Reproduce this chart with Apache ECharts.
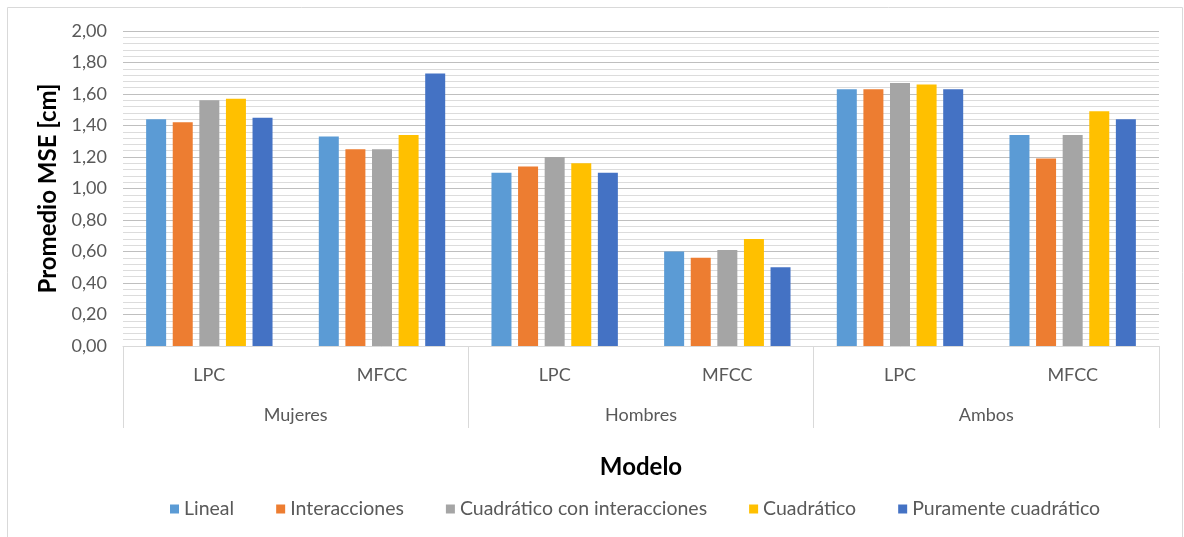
<!DOCTYPE html>
<html>
<head>
<meta charset="utf-8">
<script src="https://cdn.jsdelivr.net/npm/echarts@6/dist/echarts.min.js"></script>
<style>
  html, body { margin: 0; padding: 0; background: #ffffff; }
  #chart { width: 1184px; height: 537px; }
</style>
</head>
<body>
<div id="chart"></div>
<script>
// Grupos de hablantes y tipo de característica por modelo
const groups = ['Mujeres', 'Hombres', 'Ambos'];
const features = ['LPC', 'MFCC', 'LPC', 'MFCC', 'LPC', 'MFCC'];

// Promedio del MSE [cm] por modelo de regresión
const lineal        = [1.44, 1.33, 1.10, 0.60, 1.63, 1.34];
const interacciones = [1.42, 1.25, 1.14, 0.56, 1.63, 1.19];
const cuadInter     = [1.56, 1.25, 1.20, 0.61, 1.67, 1.34];
const cuadratico    = [1.57, 1.34, 1.16, 0.68, 1.66, 1.49];
const puramente     = [1.45, 1.73, 1.10, 0.50, 1.63, 1.44];

const seriesNames = ['Lineal', 'Interacciones', 'Cuadrático con interacciones', 'Cuadrático', 'Puramente cuadrático'];
const seriesData = [lineal, interacciones, cuadInter, cuadratico, puramente];
const colors = ['#5B9BD5', '#ED7D31', '#A5A5A5', '#FFC000', '#4472C4'];

const FONT = 'Lato, "Open Sans", sans-serif';
const chart = echarts.init(document.getElementById('chart'), null, { renderer: 'canvas' });

chart.setOption({
  animation: false,
  color: colors,
  textStyle: { fontFamily: FONT },
  graphic: [{
    type: 'rect',
    shape: { x: 7.5, y: 7.5, width: 1175, height: 535 },
    style: { fill: 'none', stroke: '#d9d9d9', lineWidth: 1 },
    silent: true
  }],
  grid: { left: 123, right: 25, top: 31, bottom: 191 },
  legend: {
    bottom: 13,
    left: 165,
    itemWidth: 9,
    itemHeight: 9,
    itemGap: 42,
    icon: 'rect',
    textStyle: { color: '#595959', fontSize: 19.5, fontFamily: FONT },
    data: seriesNames
  },
  xAxis: [{
    type: 'category',
    data: features,
    position: 'bottom',
    axisLine: { show: true, lineStyle: { color: '#d9d9d9', width: 1 } },
    axisTick: { show: false },
    axisLabel: { color: '#595959', fontSize: 18, margin: 20, fontFamily: FONT },
    splitLine: { show: false }
  }, {
    type: 'category',
    data: groups,
    position: 'bottom',
    axisLine: { show: false },
    axisTick: { show: true, length: 82, lineStyle: { color: '#d9d9d9', width: 1 } },
    axisLabel: { color: '#595959', fontSize: 18, margin: 60, fontFamily: FONT },
    splitLine: { show: false },
    name: 'Modelo',
    nameLocation: 'middle',
    nameGap: 109,
    nameTextStyle: { color: '#000000', fontSize: 24, fontWeight: 'bold', fontFamily: FONT }
  }],
  yAxis: {
    type: 'value',
    min: 0,
    max: 2,
    interval: 0.2,
    name: 'Promedio MSE [cm]',
    nameLocation: 'middle',
    nameGap: 61,
    nameTextStyle: { color: '#000000', fontSize: 24, fontWeight: 'bold', fontFamily: FONT },
    axisLine: { show: false },
    axisTick: { show: false },
    axisLabel: {
      color: '#595959', fontSize: 18, margin: 16, fontFamily: FONT,
      formatter: v => v.toFixed(2).replace('.', ',')
    },
    splitLine: { show: true, lineStyle: { color: '#bfbfbf', width: 1 } },
    minorTick: { show: false, splitNumber: 5 },
    minorSplitLine: { show: true, lineStyle: { color: '#dcdcdc', width: 1 } }
  },
  series: seriesNames.map((name, i) => ({
    name: name,
    type: 'bar',
    xAxisIndex: 0,
    data: seriesData[i],
    barWidth: 20,
    barGap: '33%',
    itemStyle: { color: colors[i] }
  }))
});
</script>
</body>
</html>
